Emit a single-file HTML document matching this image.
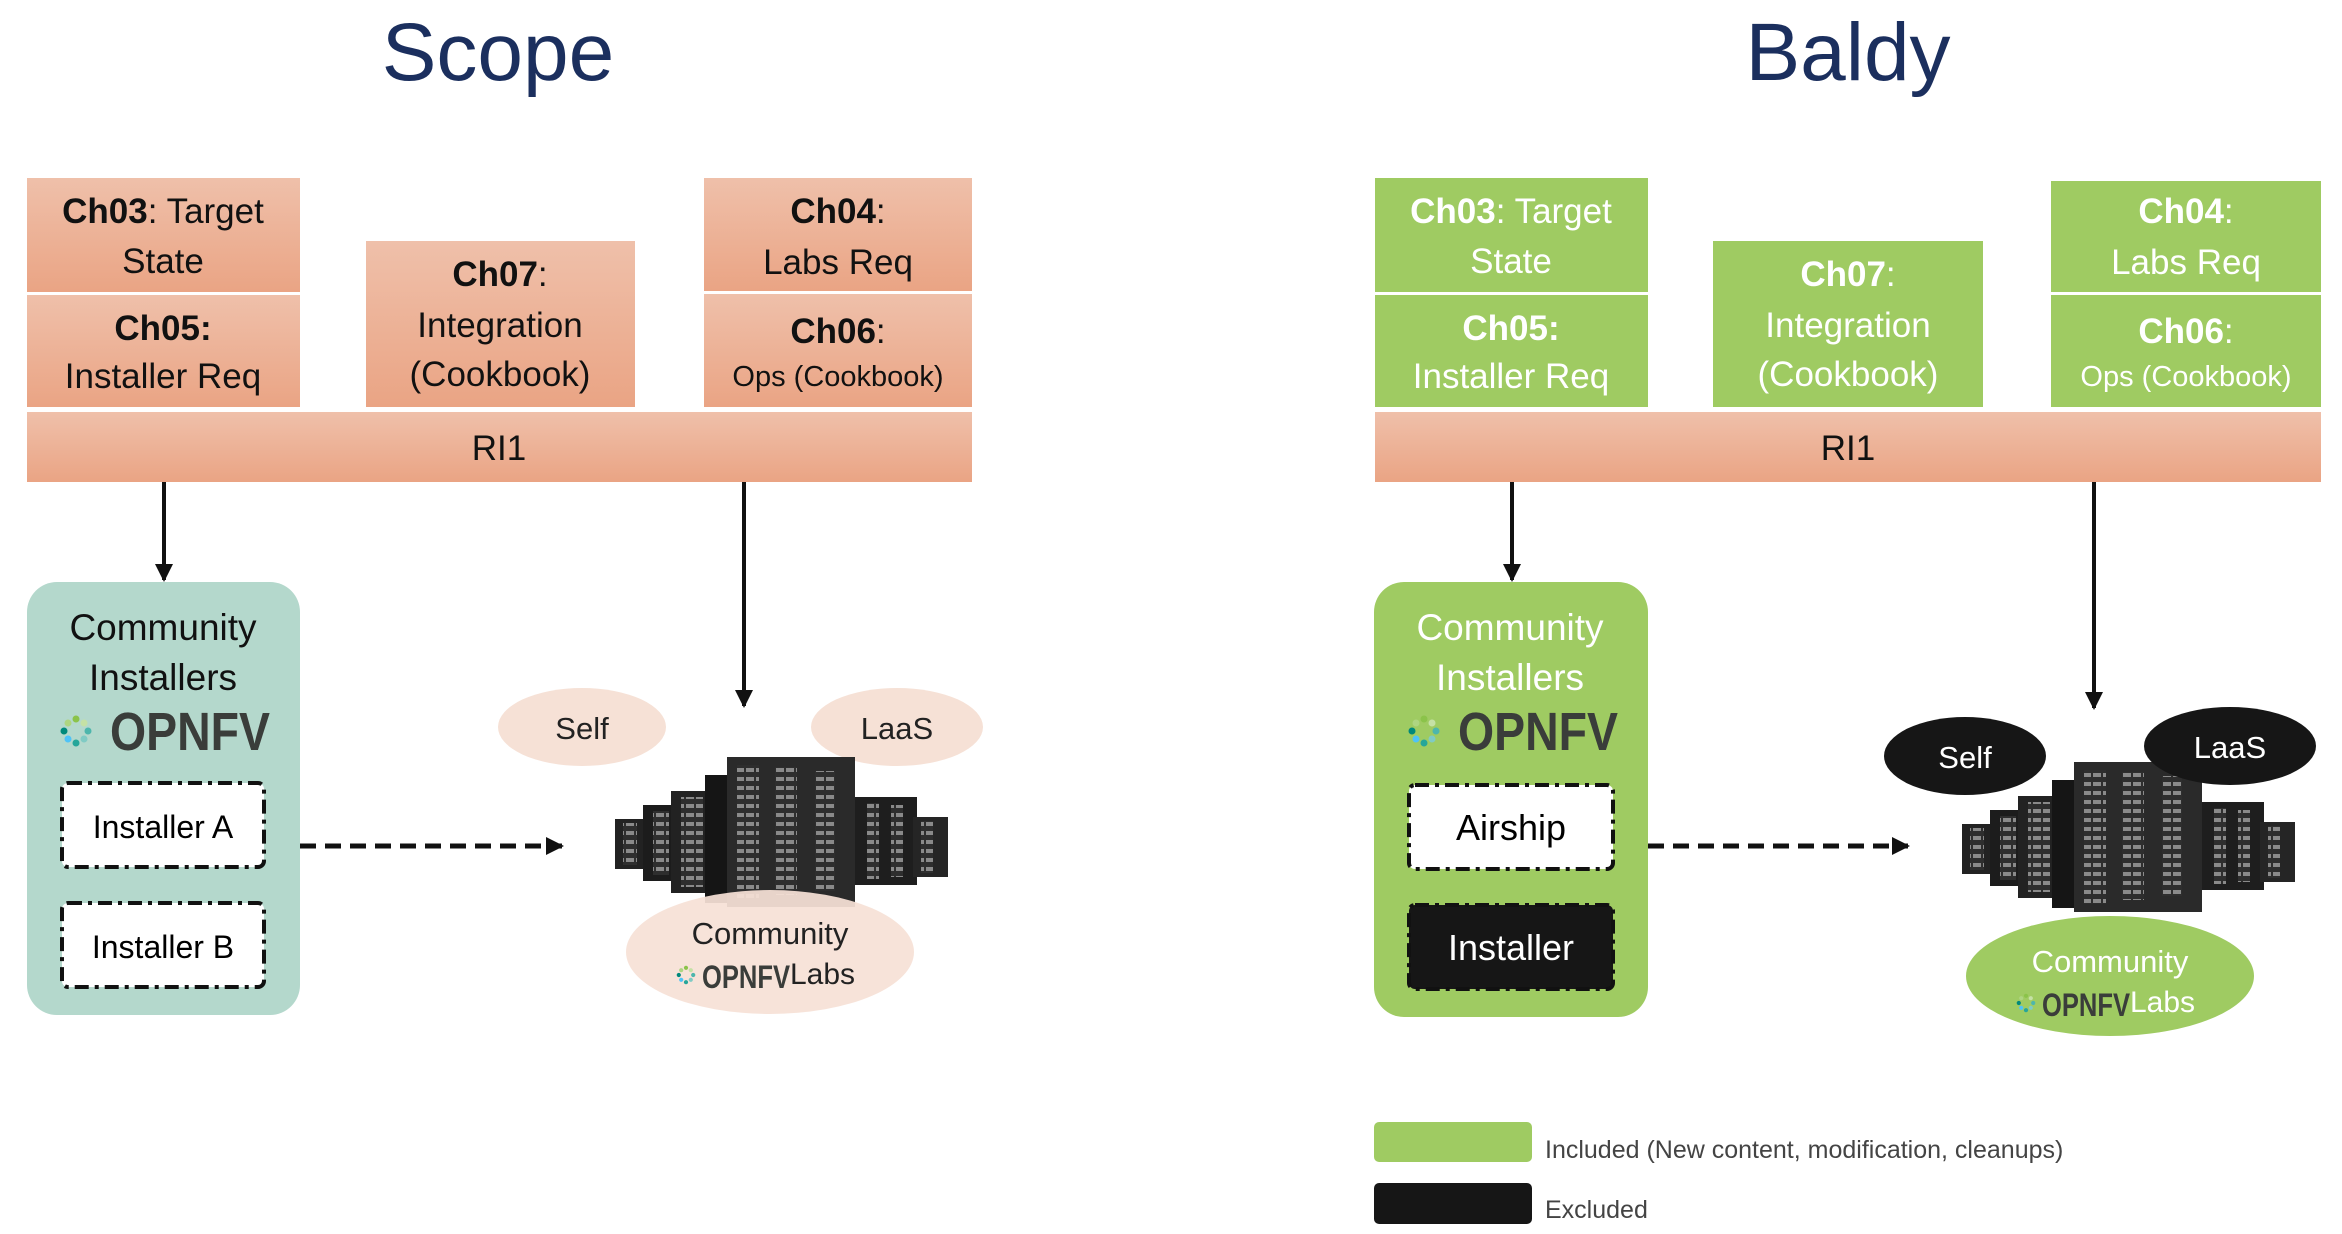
<!DOCTYPE html>
<html><head><meta charset="utf-8"><style>
html,body{margin:0;padding:0;background:#fff;}
svg{display:block;font-family:"Liberation Sans",sans-serif;}
</style></head><body>
<svg width="2342" height="1234" viewBox="0 0 2342 1234" xmlns="http://www.w3.org/2000/svg">
<defs>
<linearGradient id="pk" x1="0" y1="0" x2="0" y2="1"><stop offset="0" stop-color="#efc0aa"/><stop offset="1" stop-color="#eaa484"/></linearGradient>
<pattern id="str" width="10" height="9" patternUnits="userSpaceOnUse"><rect width="10" height="9" fill="#2e2e2e"/><rect x="1" y="2" width="8" height="4" fill="#8a8a8a"/></pattern>
<marker id="ah" markerWidth="18" markerHeight="18" refX="16" refY="9" orient="auto" markerUnits="userSpaceOnUse" viewBox="0 0 18 18"><path d="M0,0 L18,9 L0,18 z" fill="#111"/></marker>
<symbol id="srv" viewBox="0 0 333 150" width="333" height="150">
<rect x="0" y="62" width="30" height="50" fill="#222"/>
<rect x="8" y="66" width="14" height="42" fill="url(#str)"/>
<rect x="28" y="48" width="32" height="76" fill="#1c1c1c"/>
<rect x="38" y="54" width="16" height="64" fill="url(#str)"/>
<rect x="56" y="34" width="40" height="102" fill="#222"/>
<rect x="66" y="40" width="22" height="90" fill="url(#str)"/>
<rect x="90" y="18" width="28" height="128" fill="#151515"/>
<rect x="112" y="0" width="128" height="150" fill="#2a2a2a"/>
<rect x="122" y="8" width="22" height="134" fill="url(#str)"/>
<rect x="160" y="10" width="22" height="128" fill="url(#str)"/>
<rect x="200" y="14" width="20" height="120" fill="url(#str)"/>
<rect x="240" y="40" width="62" height="88" fill="#1e1e1e"/>
<rect x="252" y="46" width="12" height="76" fill="url(#str)"/>
<rect x="276" y="48" width="12" height="72" fill="url(#str)"/>
<rect x="298" y="60" width="35" height="60" fill="#252525"/>
<rect x="306" y="64" width="12" height="52" fill="url(#str)"/>
</symbol>
<g id="flw">
<circle cx="0" cy="-12" r="3.5" fill="#8bc34a"/><circle cx="8" cy="-8" r="3.5" fill="#c5e1a5"/><circle cx="12" cy="0" r="3.5" fill="#4db6ac"/><circle cx="8" cy="8" r="3.5" fill="#80cbc4"/><circle cx="0" cy="12" r="3.5" fill="#26a69a"/><circle cx="-8" cy="8" r="3.5" fill="#4fc3f7"/><circle cx="-12" cy="0" r="3.5" fill="#00897b"/><circle cx="-8" cy="-8" r="3.5" fill="#aed581"/>
</g>
</defs>

<text x="498" y="80" font-size="82" fill="#1b2f5e" text-anchor="middle">Scope</text>
<text x="1848" y="80" font-size="82" fill="#1b2f5e" text-anchor="middle">Baldy</text>

<g font-size="35" fill="#111" text-anchor="middle">
<rect x="27" y="178" width="273" height="114" fill="url(#pk)"/>
<text x="163" y="223"><tspan font-weight="bold">Ch03</tspan>: Target</text>
<text x="163" y="273">State</text>
<rect x="27" y="295" width="273" height="112" fill="url(#pk)"/>
<text x="163" y="340" font-weight="bold">Ch05:</text>
<text x="163" y="388">Installer Req</text>
<rect x="366" y="241" width="269" height="166" fill="url(#pk)"/>
<text x="500" y="286"><tspan font-weight="bold">Ch07</tspan>:</text>
<text x="500" y="337">Integration</text>
<text x="500" y="386">(Cookbook)</text>
<rect x="704" y="178" width="268" height="113" fill="url(#pk)"/>
<text x="838" y="223"><tspan font-weight="bold">Ch04</tspan>:</text>
<text x="838" y="274">Labs Req</text>
<rect x="704" y="294" width="268" height="113" fill="url(#pk)"/>
<text x="838" y="343"><tspan font-weight="bold">Ch06</tspan>:</text>
<text x="838" y="386" font-size="29">Ops (Cookbook)</text>
<rect x="27" y="412" width="945" height="70" fill="url(#pk)"/>
<text x="499" y="460">RI1</text>
</g>
<line x1="164" y1="482" x2="164" y2="580" stroke="#111" stroke-width="4" marker-end="url(#ah)"/>
<line x1="744" y1="482" x2="744" y2="706" stroke="#111" stroke-width="4" marker-end="url(#ah)"/>
<rect x="27" y="582" width="273" height="433" rx="30" fill="#b4d8cc"/>
<text x="163" y="640" font-size="37" text-anchor="middle" fill="#111">Community</text>
<text x="163" y="690" font-size="37" text-anchor="middle" fill="#111">Installers</text>
<use href="#flw" x="76" y="731"/>
<text x="110" y="750" font-size="54" font-weight="bold" fill="#3a3d3a" textLength="160" lengthAdjust="spacingAndGlyphs">OPNFV</text>
<rect x="62" y="783" width="202" height="84" rx="6" fill="#fff" stroke="#111" stroke-width="4" stroke-dasharray="14,6,4,6"/>
<text x="163" y="838" font-size="32" text-anchor="middle">Installer A</text>
<rect x="62" y="903" width="202" height="84" rx="6" fill="#fff" stroke="#111" stroke-width="4" stroke-dasharray="14,6,4,6"/>
<text x="163" y="958" font-size="32" text-anchor="middle">Installer B</text>
<line x1="300" y1="846" x2="562" y2="846" stroke="#111" stroke-width="5" stroke-dasharray="16,9" marker-end="url(#ah)"/>
<ellipse cx="582" cy="727" rx="84" ry="39" fill="#f6e1d6"/>
<text x="582" y="739" font-size="31" text-anchor="middle" fill="#222">Self</text>
<ellipse cx="897" cy="727" rx="86" ry="39" fill="#f6e1d6"/>
<text x="897" y="739" font-size="31" text-anchor="middle" fill="#222">LaaS</text>
<use href="#srv" x="615" y="757" width="333" height="150"/>
<ellipse cx="770" cy="952" rx="144" ry="62" fill="#f6e1d6" fill-opacity="0.93"/>
<text x="770" y="944" font-size="31" text-anchor="middle" fill="#222">Community</text>
<use href="#flw" transform="translate(686,975) scale(0.6)"/>
<text x="702" y="988" font-size="32" font-weight="bold" fill="#3a3d3a" textLength="88" lengthAdjust="spacingAndGlyphs">OPNFV</text>
<text x="790" y="984" font-size="30" fill="#222">Labs</text>

<g font-size="35" fill="#fff" text-anchor="middle">
<rect x="1375" y="178" width="273" height="114" fill="#9fcb62"/>
<text x="1511" y="223"><tspan font-weight="bold">Ch03</tspan>: Target</text>
<text x="1511" y="273">State</text>
<rect x="1375" y="295" width="273" height="112" fill="#9fcb62"/>
<text x="1511" y="340" font-weight="bold">Ch05:</text>
<text x="1511" y="388">Installer Req</text>
<rect x="1713" y="241" width="270" height="166" fill="#9fcb62"/>
<text x="1848" y="286"><tspan font-weight="bold">Ch07</tspan>:</text>
<text x="1848" y="337">Integration</text>
<text x="1848" y="386">(Cookbook)</text>
<rect x="2051" y="181" width="270" height="111" fill="#9fcb62"/>
<text x="2186" y="223"><tspan font-weight="bold">Ch04</tspan>:</text>
<text x="2186" y="274">Labs Req</text>
<rect x="2051" y="295" width="270" height="112" fill="#9fcb62"/>
<text x="2186" y="343"><tspan font-weight="bold">Ch06</tspan>:</text>
<text x="2186" y="386" font-size="29">Ops (Cookbook)</text>
</g>
<rect x="1375" y="412" width="946" height="70" fill="url(#pk)"/>
<text x="1848" y="460" font-size="35" text-anchor="middle" fill="#111">RI1</text>
<line x1="1512" y1="482" x2="1512" y2="580" stroke="#111" stroke-width="4" marker-end="url(#ah)"/>
<line x1="2094" y1="482" x2="2094" y2="708" stroke="#111" stroke-width="4" marker-end="url(#ah)"/>
<rect x="1374" y="582" width="274" height="435" rx="30" fill="#9fcb62"/>
<text x="1510" y="640" font-size="37" text-anchor="middle" fill="#fff">Community</text>
<text x="1510" y="690" font-size="37" text-anchor="middle" fill="#fff">Installers</text>
<use href="#flw" x="1424" y="731"/>
<text x="1458" y="750" font-size="54" font-weight="bold" fill="#3a3d3a" textLength="160" lengthAdjust="spacingAndGlyphs">OPNFV</text>
<rect x="1409" y="785" width="204" height="84" rx="6" fill="#fff" stroke="#111" stroke-width="4" stroke-dasharray="14,6,4,6"/>
<text x="1511" y="840" font-size="36" text-anchor="middle">Airship</text>
<rect x="1409" y="905" width="204" height="84" rx="6" fill="#161616" stroke="#111" stroke-width="4" stroke-dasharray="14,6,4,6"/>
<text x="1511" y="960" font-size="36" text-anchor="middle" fill="#fff">Installer</text>
<line x1="1648" y1="846" x2="1908" y2="846" stroke="#111" stroke-width="5" stroke-dasharray="16,9" marker-end="url(#ah)"/>
<use href="#srv" x="1962" y="762" width="333" height="150"/>
<ellipse cx="1965" cy="756" rx="81" ry="39" fill="#161616"/>
<text x="1965" y="768" font-size="31" text-anchor="middle" fill="#fff">Self</text>
<ellipse cx="2230" cy="746" rx="86" ry="39" fill="#161616"/>
<text x="2230" y="758" font-size="31" text-anchor="middle" fill="#fff">LaaS</text>
<ellipse cx="2110" cy="976" rx="144" ry="60" fill="#9fcb62"/>
<text x="2110" y="972" font-size="31" text-anchor="middle" fill="#fff">Community</text>
<use href="#flw" transform="translate(2026,1003) scale(0.6)"/>
<text x="2042" y="1016" font-size="32" font-weight="bold" fill="#3a3d3a" textLength="88" lengthAdjust="spacingAndGlyphs">OPNFV</text>
<text x="2130" y="1012" font-size="30" fill="#fff">Labs</text>

<rect x="1374" y="1122" width="158" height="40" rx="5" fill="#9fcb62"/>
<text x="1545" y="1158" font-size="25" fill="#444">Included (New content, modification, cleanups)</text>
<rect x="1374" y="1183" width="158" height="41" rx="5" fill="#161616"/>
<text x="1545" y="1218" font-size="25" fill="#444">Excluded</text>
</svg>
</body></html>
